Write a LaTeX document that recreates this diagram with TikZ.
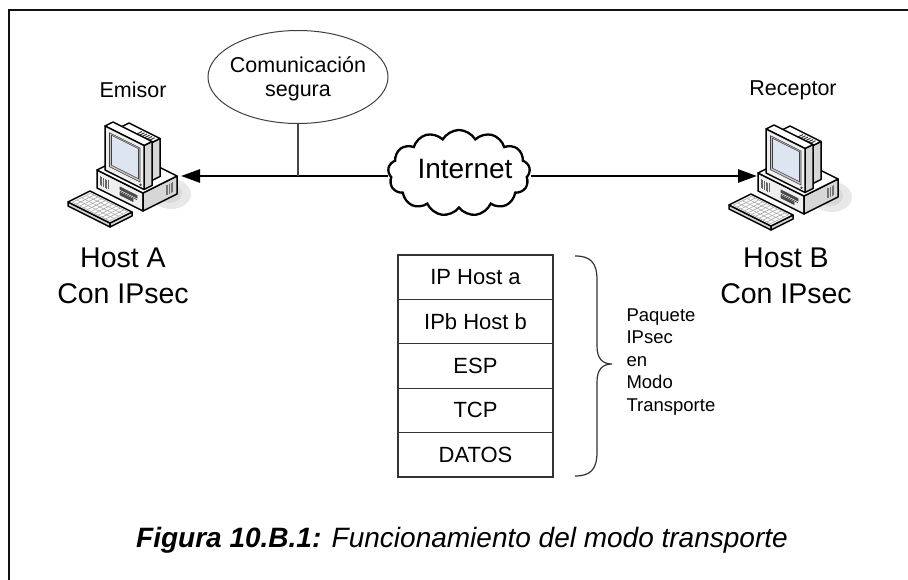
\documentclass[tikz,border=0pt]{standalone}
\usepackage{fontspec}
\setmainfont{Liberation Sans}
\usetikzlibrary{arrows.meta,shapes.geometric,shapes.symbols}

\newcommand{\fsz}[2]{\fontsize{#1}{#2}\selectfont}
\definecolor{ink}{HTML}{111111}
\definecolor{screenblue}{HTML}{DDE5F1}
\definecolor{casegray}{HTML}{D6D6D6}
\definecolor{frontgray}{HTML}{EFEFEF}

\tikzset{
  frameline/.style={draw=ink, line width=2.4pt},
  pcedge/.style={draw=black, line width=1.5pt, line join=round},
  pcdetail/.style={draw=black!75, line width=0.6pt},
  conn/.style={draw=black, line width=2.6pt, -{Triangle[length=19pt,width=13pt]}},
  link/.style={draw=gray!55!black, line width=1.2pt},
  cell/.style={draw=black!80, line width=1.1pt, minimum width=155pt, minimum height=44.4pt,
               inner sep=0pt, font=\fsz{22}{26}},
  role/.style={font=\fsz{21.5}{25}},
  hostname/.style={font=\fsz{28.5}{36}, align=center},
  pics/computer/.style={code={
    % soft shadow beside the case
    \fill[gray!18] (74,6) ellipse [x radius=20pt, y radius=15pt];
    \fill[gray!30] (72,5) ellipse [x radius=13pt, y radius=10pt];
    \begin{scope}[x={(1pt,-0.5pt)}, y={(1pt,0.5pt)}, z={(0pt,1pt)}]
      % desktop case
      \filldraw[pcedge, fill=frontgray] (0,0,0) -- (46,0,0) -- (46,0,18) -- (0,0,18) -- cycle;
      \filldraw[pcedge, fill=casegray] (46,0,0) -- (46,34,0) -- (46,34,18) -- (46,0,18) -- cycle;
      \filldraw[pcedge, fill=white] (0,0,18) -- (46,0,18) -- (46,34,18) -- (0,34,18) -- cycle;
      \foreach \t in {3,4.6,...,11.1} \draw[pcdetail, draw=black!60] (\t,0,4) -- (\t,0,13);
      \filldraw[pcdetail, fill=black!70] (23,0,10) -- (40,0,10) -- (40,0,12.5) -- (23,0,12.5) -- cycle;
      \filldraw[pcdetail, fill=black!70] (23,0,4.5) -- (36,0,4.5) -- (36,0,7) -- (23,0,7) -- cycle;
      \draw[pcdetail] (23,0,8.3) -- (40,0,8.3);
      \foreach \t in {23,24.6,...,31} \draw[pcdetail, draw=black!55] (46,\t,4) -- (46,\t,14);
      % monitor housing
      \filldraw[pcedge, fill=casegray] (40,12,20) -- (40,23,20) -- (40,23,58) -- (40,12,58) -- cycle;
      \filldraw[pcedge, fill=white] (9,12,58) -- (40,12,58) -- (40,23,58) -- (9,23,58) -- cycle;
      \foreach \t in {24,26.5,...,37} \draw[pcdetail, draw=black!80, line width=0.9pt] (\t,14,58) -- (\t,21,58);
      % monitor bezel
      \filldraw[pcedge, fill=casegray] (43,4,18) -- (43,12,18) -- (43,12,62) -- (43,4,62) -- cycle;
      \filldraw[pcedge, fill=white] (4,4,62) -- (43,4,62) -- (43,12,62) -- (4,12,62) -- cycle;
      \filldraw[pcedge, fill=frontgray] (4,4,18) -- (43,4,18) -- (43,4,62) -- (4,4,62) -- cycle;
      \filldraw[pcdetail, fill=gray!45] (8.5,4,23.5) -- (39,4,23.5) -- (39,4,57.5) -- (8.5,4,57.5) -- cycle;
      \filldraw[pcdetail, fill=screenblue] (10.5,4,26) -- (37.5,4,26) -- (37.5,4,56) -- (10.5,4,56) -- cycle;
      \fill[black!70] (39.5,4,21) circle [radius=1.3pt];
      % keyboard
      \filldraw[pcedge, fill=casegray] (3.5,-32.5,0) -- (45.5,-32.5,0) -- (45.5,-32.5,4) -- (3.5,-32.5,4) -- cycle;
      \filldraw[pcedge, fill=casegray] (45.5,-32.5,0) -- (45.5,-10.5,0) -- (45.5,-10.5,4) -- (45.5,-32.5,4) -- cycle;
      \filldraw[pcedge, fill=white] (3.5,-32.5,4) -- (45.5,-32.5,4) -- (45.5,-10.5,4) -- (3.5,-10.5,4) -- cycle;
      \foreach \t in {6,9.7,...,43} \draw[pcdetail, draw=gray!70] (\t,-30.5,4) -- (\t,-12.5,4);
      \foreach \t in {-30.5,-26,...,-12} \draw[pcdetail, draw=gray!70] (6,\t,4) -- (43,\t,4);
    \end{scope}
  }}
}

\begin{document}
\begin{tikzpicture}[x=1pt, y=-1pt]
  \useasboundingbox (0,0) rectangle (908,580);
  \fill[white] (0,0) rectangle (908,580);
  \draw[frameline] (9,580) -- (9,10) -- (908,10);

  % the two hosts
  \pic (pcA) at (97,188) {computer};
  \pic (pcB) at (758,191) {computer};
  \coordinate (hostA) at (181,176);
  \coordinate (hostB) at (757,176);

  \node[role] (emisor) at (133,90) {Emisor};
  \node[role] (receptor) at (793,90) {Receptor};
  \node[hostname] (nameA) at (123,276) {Host A\\Con IPsec};
  \node[hostname] (nameB) at (786,276) {Host B\\Con IPsec};

  % secure channel label
  \node[ellipse, draw=black!75, line width=1pt, minimum width=180pt, minimum height=93pt,
        inner sep=0pt] (sec) at (298,77) {};
  \node[align=center, font=\fsz{21.5}{24}] (seclabel) at (298,79) {Comunicación\\segura};

  % internet cloud
  \node[cloud, draw=black, line width=2.3pt, cloud puffs=13, cloud puff arc=120, aspect=1.6,
        minimum width=142pt, minimum height=86pt, inner sep=0pt] (net) at (459,173) {};
  \node[font=\fsz{28}{32}] (netlabel) at (465,169) {Internet};

  \draw[conn] (net.west |- hostA) -- (hostA);
  \draw[conn] (net.east |- hostB) -- (hostB);
  \draw[link] (sec.south) -- (sec.south |- hostA);

  % packet layout
  \node[cell] (r1) at (475.5,277.2) {IP Host a};
  \node[cell] (r2) at (475.5,321.6) {IPb Host b};
  \node[cell] (r3) at (475.5,366.0) {ESP};
  \node[cell] (r4) at (475.5,410.4) {TCP};
  \node[cell] (r5) at (475.5,454.8) {DATOS};

  \draw[draw=black!80, line width=1.2pt]
    (575,256) .. controls (590,256) and (597,262) .. (597,280) -- (597,346)
    .. controls (597,358) and (602,364) .. (612,364)
    .. controls (602,364) and (597,370) .. (597,382) -- (597,452)
    .. controls (597,470) and (590,476) .. (575,476);
  \node[anchor=west, align=left, font=\fsz{18.5}{22.5}] (pkt) at (623,362)
    {Paquete\\IPsec\\en\\Modo\\Transporte};

  \node[font=\fsz{28}{32}] (caption) at (462,540)
    {\textbf{\textit{Figura 10.B.1:}} \textit{Funcionamiento del modo transporte}};
\end{tikzpicture}
\end{document}
